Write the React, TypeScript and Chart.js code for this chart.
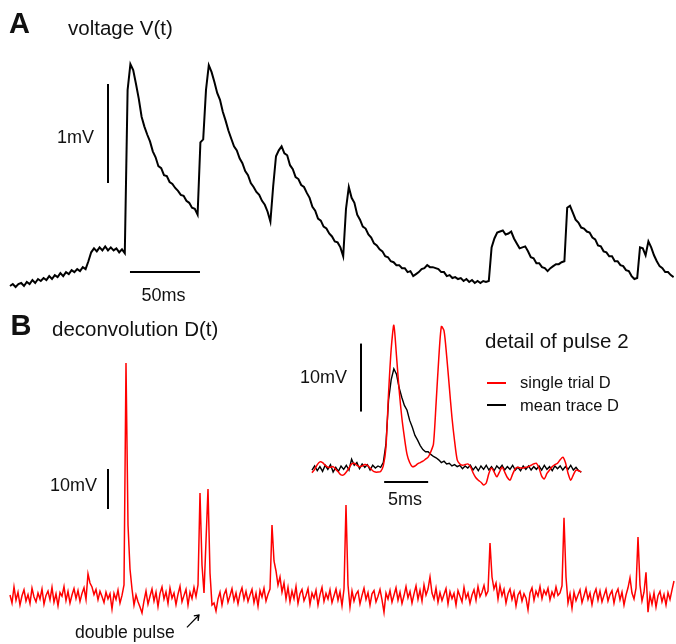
import React, { useEffect, useRef } from "react";
import { Chart, registerables } from "chart.js";

Chart.register(...registerables);

// Panel A: membrane voltage V(t), mV, one sample every 2 ms starting at t = 0
const voltageStepMs = 2;
const voltageA = [
  -0.03, -0.01, -0.04, -0.01, 0.0, -0.03, 0.01, -0.01, 0.03, 0.0, 0.04, 0.02, 0.05, 0.03, 0.07, 0.04, 0.08, 0.06, 0.1, 0.07,
  0.11, 0.09, 0.13, 0.11, 0.14, 0.12, 0.16, 0.14, 0.22, 0.31, 0.35, 0.32, 0.36, 0.33, 0.37, 0.33, 0.36, 0.33, 0.35, 0.31,
  0.34, 0.3, 1.95, 2.21, 2.15, 2.01, 1.86, 1.68, 1.58, 1.5, 1.43, 1.33, 1.27, 1.18, 1.16, 1.09, 1.08, 1.02, 1.0, 0.96,
  0.93, 0.89, 0.88, 0.83, 0.81, 0.76, 0.75, 0.69, 1.42, 1.45, 1.95, 2.2, 2.13, 2.03, 1.92, 1.85, 1.73, 1.64, 1.54, 1.46,
  1.38, 1.34, 1.26, 1.21, 1.13, 1.09, 1.01, 0.97, 0.92, 0.89, 0.83, 0.79, 0.72, 0.62, 0.98, 1.28, 1.34, 1.38, 1.31, 1.29,
  1.19, 1.15, 1.07, 1.05, 0.99, 0.97, 0.91, 0.86, 0.77, 0.73, 0.65, 0.63, 0.57, 0.55, 0.5, 0.47, 0.42, 0.41, 0.36, 0.27,
  0.75, 0.97, 0.86, 0.81, 0.69, 0.64, 0.57, 0.55, 0.49, 0.46, 0.4, 0.38, 0.34, 0.32, 0.27, 0.26, 0.22, 0.21, 0.18, 0.18,
  0.15, 0.15, 0.11, 0.12, 0.07, 0.09, 0.11, 0.14, 0.15, 0.18, 0.16, 0.16, 0.15, 0.14, 0.11, 0.11, 0.07, 0.08, 0.05, 0.06,
  0.04, 0.05, 0.02, 0.04, 0.01, 0.03, 0.0, 0.02, 0.0, 0.02, 0.01, 0.02, 0.36, 0.45, 0.51, 0.52, 0.53, 0.49, 0.5, 0.52,
  0.45, 0.4, 0.35, 0.36, 0.37, 0.32, 0.26, 0.25, 0.2, 0.2, 0.16, 0.15, 0.12, 0.15, 0.17, 0.19, 0.19, 0.21, 0.22, 0.76,
  0.78, 0.71, 0.64, 0.61, 0.56, 0.55, 0.52, 0.51, 0.46, 0.44, 0.38, 0.37, 0.32, 0.31, 0.27, 0.27, 0.22, 0.22, 0.18, 0.17,
  0.13, 0.12, 0.07, 0.04, 0.05, 0.36, 0.35, 0.28, 0.42, 0.36, 0.28, 0.22, 0.17, 0.15, 0.11, 0.11, 0.08, 0.06,
];

// Panel B: deconvolution D(t), mV, one sample every 10/7 ms starting at t = 0
const deconvStepMs = 10 / 7;
const deconvB = [
  0.5, -1.5, 2.5, -0.8, 1.2, -2.0, 0.3, 1.8, -1.0, 0.6, -1.6, 2.2, 0.0, -1.2, 1.0, -0.5, 2.0, -1.8, 0.4, 1.5,
  -0.7, 2.4, -1.3, 0.8, -2.2, 1.1, 0.2, 2.6, -0.9, 1.4, -1.5, 0.5, 2.1, -0.4, 1.6, -1.1, 0.9, 2.3, -0.6, 5.8,
  3.5, 2.5, 0.6, 1.9, -0.7, 1.4, 0.1, -1.4, 1.2, -0.5, 0.8, -3.0, 0.9, -0.6, 1.7, -1.5, 0.4, 3.0, 58.5, 18.0,
  7.0, 2.0, -2.0, 0.5, -1.2, -2.5, -4.0, -1.0, 1.5, -1.8, 0.2, 2.0, -1.0, 1.2, -2.4, 0.9, 2.5, -0.5, 1.3, -1.6,
  2.2, -0.3, 1.0, -1.9, 0.7, 2.7, -1.2, 0.4, 1.9, -2.0, 1.2, -0.4, 2.4, 0.1, 3.0, 26.0, 8.0, 1.0, 14.0, 27.0,
  6.0, -2.0, -1.5, -3.5, -0.5, 1.2, -2.0, 0.6, 1.8, -1.3, 0.3, 2.1, -0.9, 1.0, -1.7, 0.8, 2.3, -0.6, 1.4, -1.1,
  0.5, 1.9, -1.4, 0.9, -2.3, 1.6, 0.0, 2.2, -1.0, 0.7, 2.0, 18.0, 9.0, 6.5, 3.0, 5.0, 1.2, 3.5, -0.5, 2.4,
  -1.2, 1.5, -0.4, 2.6, -1.6, 0.8, 1.9, -0.9, 0.4, 2.1, -1.8, 1.0, -0.3, 1.7, -2.0, 0.6, 2.4, -1.1, 0.9, -0.5,
  1.8, -1.4, 0.3, 2.0, -0.8, 1.3, -2.2, 2.0, 23.0, 3.0, -2.5, 1.5, -1.0, 0.7, 1.5, -1.7, 0.4, 2.2, -0.6, 1.1,
  -2.0, 0.8, 1.6, -1.2, 0.2, 1.9, -0.7, -3.8, 1.0, -0.5, 1.6, -1.3, 0.5, 2.3, -0.8, 1.2, -1.6, 0.3, 2.6, -0.2,
  1.4, -1.5, 0.8, 2.8, -0.6, 1.7, -1.0, 3.0, 0.5, 2.0, 5.0, 1.0, -0.5, 2.2, -1.3, 1.1, -0.9, 0.6, 2.1, -1.7,
  1.3, -0.4, 0.9, -2.0, 1.6, 0.2, -1.2, 2.4, -0.3, 1.0, -1.6, 0.5, 1.8, -0.8, 2.6, 0.1, 1.2, 2.9, 0.4, 1.5,
  13.5, 5.0, 2.0, 3.5, -0.5, 2.8, 0.3, 1.9, -1.5, 0.8,
  2.0, -0.6, 1.2, -2.2, 0.5, 1.4, -1.0, 0.8, -0.3, -3.2, 1.0, 2.3, -0.8, 1.5, 0.2, 2.6, -0.4, 1.7, 0.6, 2.2,
  -0.7, 1.3, 0.1, 2.5, 0.4, 1.0, 2.8, 19.8, 5.0, -1.5,
  0.8, -2.8, 1.2, -0.9, 0.5, 1.8, -1.4, 0.3, 2.1, -0.6, 1.0, -1.9, 0.7, 2.0, -0.8, 1.5, -1.2, 0.4, 1.9, -1.0,
  0.6, 1.6, -1.5, 0.9, 2.0, -0.7, 1.2, -2.0, 0.5, 2.3, 4.8, 1.0, -0.5, 2.2, 15.0, 3.0, -1.0, 1.2, 6.2, -3.8,
  0.5, -1.8, 1.0, -2.5, 0.3, 1.4, -1.2, 0.6, -2.0, 1.1, -0.6, 1.8, 4.0,
];

// Inset: detail of pulse 2, mV, one sample every 0.3 ms
const insetStepMs = 0.3;
const insetSingleTrial = [
  -0.7, -0.2, 0.5, 0.9, 0.8, 0.4, 0.1, 0.1, 0.2, -0.2, -0.6, -1.0, -1.0, -0.6, 0.0, 0.6, 0.7, 0.4, 0.2, 0.3,
  0.5, 0.4, 0.0, -0.4, -0.6, -0.6, -0.5, 0.3, 3.0, 11.0, 17.5, 21.0, 16.5, 11.5, 7.5, 4.5, 2.0, 0.8, 0.2, 0.3,
  0.6, 0.8, 1.0, 1.3, 1.6, 2.4, 3.5, 9.5, 16.0, 20.8, 20.2, 16.5, 12.0, 7.5, 4.0, 1.2, 0.6, 0.4, 0.5, 0.6,
  0.2, -0.7, -1.4, -1.8, -2.1, -2.5, -2.2, -0.8, 0.0, -0.6, -1.3, -0.6, 0.1, -0.6, -1.4, -1.8, -0.9, -0.1, 0.1, 0.0,
  0.0, 0.1, 0.2, 0.4, 0.6, 0.7, 0.0, -1.2, -1.6, -0.8, -0.3, 0.2, 0.5, 0.7, 1.2, 1.6, 0.8, -0.8, -1.8, -1.0,
  -0.3, -0.4, -0.6,
];
const insetMeanTrace = [
  -0.3, 0.3, -0.4, 0.2, -0.5, 0.4, -0.2, 0.5, -0.6, 0.1, -0.5, 0.3, -0.2, 0.4, -0.3, 1.3, 0.4, 0.8, -0.1, 0.6,
  0.1, 0.5, -0.3, 0.4, 0.0, 0.3, 0.1, 0.8, 3.5, 10.0, 13.0, 14.6, 13.8, 11.8, 10.4, 9.2, 8.5, 7.0, 6.0, 4.8,
  4.1, 3.3, 2.7, 2.4, 2.4, 2.0, 1.7, 1.5, 1.2, 0.8, 1.0, 0.6, 0.7, 0.3, 0.5, 0.2, 0.4, -0.1, 0.3, 0.0,
  0.4, -0.3, 0.2, -0.4, 0.3, -0.2, 0.4, -0.3, 0.2, -0.4, 0.3, -0.1, 0.4, -0.3, 0.2, -0.2, 0.4, -0.3, 0.1, -0.4,
  0.3, -0.2, 0.3, -0.3, 0.2, -0.2, 0.3, -0.3, 0.4, -0.2, 0.2, -0.4, 0.3, -0.1, 0.3, -0.3, 0.2, -0.2, 0.4, -0.3,
  0.1, -0.4, -0.6,
];

const FONT = '"Liberation Sans", Arial, Helvetica, sans-serif';

const toPoints = (values: number[], step: number) => values.map((v, i) => ({ x: i * step, y: v }));

function line(data: { x: number; y: number }[], color: string, width: number, xAxisID: string, yAxisID: string, extra: any = {}) {
  return {
    data,
    borderColor: color,
    backgroundColor: color,
    borderWidth: width,
    pointRadius: 0,
    showLine: true,
    tension: 0,
    xAxisID,
    yAxisID,
    ...extra,
  };
}

const hidden = (min: number, max: number) => ({ type: "linear" as const, display: false, min, max });

export default function App() {
  const ref = useRef<HTMLCanvasElement>(null);
  useEffect(() => {
    const chart = new Chart(ref.current!, {
      type: "scatter",
      data: {
        datasets: [
          line(toPoints(voltageA, voltageStepMs), "#000", 2, "xA", "yA"),
          line([{ x: 70, y: 1.01 }, { x: 70, y: 2.01 }], "#000", 2, "xA", "yA"),
          line([{ x: 85.7, y: 0.111 }, { x: 135.7, y: 0.111 }], "#000", 2, "xA", "yA"),
          line(toPoints(deconvB, deconvStepMs), "#ff0000", 1.5, "xB", "yB"),
          line([{ x: 70, y: 22 }, { x: 70, y: 32 }], "#000", 2, "xB", "yB"),
          line([{ x: 126.4, y: -7.6 }, { x: 135, y: -4.5 }], "#000", 1.2, "xB", "yB"),
          line([{ x: 131.3, y: -4.7 }, { x: 135, y: -4.5 }, { x: 134.4, y: -6.0 }], "#000", 1.2, "xB", "yB"),
          line(toPoints(insetSingleTrial, insetStepMs), "#ff0000", 1.5, "xI", "yI", { tension: 0.25 }),
          line(toPoints(insetMeanTrace, insetStepMs), "#000", 1.4, "xI", "yI"),
          line([{ x: 5.57, y: 8.3 }, { x: 5.57, y: 18.3 }], "#000", 2, "xI", "yI"),
          line([{ x: 8.2, y: -2.06 }, { x: 13.2, y: -2.06 }], "#000", 2, "xI", "yI"),
        ] as any,
      },
      options: {
        animation: false,
        responsive: false,
        maintainAspectRatio: false,
        layout: { padding: 0 },
        plugins: { legend: { display: false }, tooltip: { enabled: false } },
        events: [],
        scales: {
          xA: hidden(-10 / 1.4, 666 / 1.4),
          yA: hidden((283 - 644) / 99, 283 / 99),
          xB: hidden(-10 / 1.4, 666 / 1.4),
          yB: hidden((597 - 644) / 4, 597 / 4),
          xI: hidden(-312 / 8.8, (676 - 312) / 8.8),
          yI: hidden((468 - 644) / 6.8, 468 / 6.8),
        } as any,
      },
    });
    return () => chart.destroy();
  }, []);

  const txt = (left: number, top: number, size: number, bold = false): React.CSSProperties => ({
    position: "absolute",
    left,
    top,
    fontSize: size,
    lineHeight: 1,
    fontWeight: bold ? 700 : 400,
    whiteSpace: "nowrap",
    color: "#111",
  });

  return (
    <div style={{ position: "absolute", left: 0, top: 0, width: 676, height: 644, background: "#fff", fontFamily: FONT, overflow: "hidden" }}>
      <canvas ref={ref} width={676} height={644} style={{ position: "absolute", left: 0, top: 0 }} />
      <div style={txt(9, 8.5, 29, true)}>A</div>
      <div style={txt(68, 17.8, 20.5)}>voltage V(t)</div>
      <div style={txt(57, 128, 18)}>1mV</div>
      <div style={txt(141.5, 286, 18)}>50ms</div>
      <div style={txt(10.5, 310.5, 29, true)}>B</div>
      <div style={txt(52, 318.8, 20.5)}>deconvolution D(t)</div>
      <div style={txt(50, 475.5, 18)}>10mV</div>
      <div style={txt(300, 368, 18)}>10mV</div>
      <div style={txt(388, 490, 18)}>5ms</div>
      <div style={txt(485, 330.8, 20.5)}>detail of pulse 2</div>
      <div style={{ position: "absolute", left: 487, top: 382, width: 19, height: 1.5, background: "#ff0000" }} />
      <div style={txt(520, 374, 16.5)}>single trial D</div>
      <div style={{ position: "absolute", left: 487, top: 404, width: 19, height: 1.5, background: "#000" }} />
      <div style={txt(520, 397, 16.5)}>mean trace D</div>
      <div style={txt(75, 623.5, 17.6)}>double pulse</div>
    </div>
  );
}
